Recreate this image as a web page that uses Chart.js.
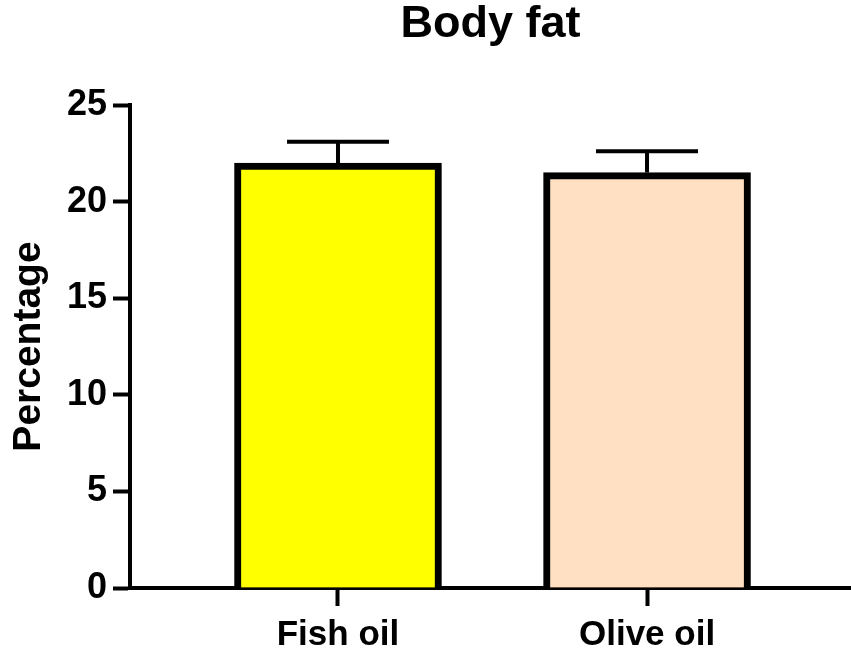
<!DOCTYPE html>
<html>
<head>
<meta charset="utf-8">
<script src="https://cdn.jsdelivr.net/npm/chart.js@4"></script>
<style>
  html, body { margin: 0; padding: 0; background: #fff; }
  #wrap { width: 851px; height: 652px; }
</style>
</head>
<body>
<div id="wrap"><canvas id="barChart" width="851" height="652"></canvas></div>
<script>
const title = 'Body fat';
const yLabel = 'Percentage';
const categories = ['Fish oil', 'Olive oil'];
const means = [22.0, 21.5];
const errors = [1.1, 1.1];
const yTicks = [0, 5, 10, 15, 20, 25];

const fillColors = ['#FFFF00', '#FFE0C2'];
const fontFamily = "'Liberation Sans', Arial, sans-serif";

// bars sit at x = 1, 2 on a linear axis so the left gap can match the original
const points = categories.map((c, i) => ({ x: i + 1, y: means[i] }));

const errorBars = {
    id: 'errorBars',
    afterDatasetsDraw(chart) {
        const ctx = chart.ctx;
        const yScale = chart.scales.y;
        const meta = chart.getDatasetMeta(0);
        ctx.save();
        ctx.strokeStyle = '#000';
        ctx.lineWidth = 4;
        ctx.lineCap = 'butt';
        meta.data.forEach((bar, i) => {
            const x = bar.x;
            const yTop = yScale.getPixelForValue(means[i] + errors[i]);
            const yBar = yScale.getPixelForValue(means[i]);
            ctx.beginPath();
            ctx.moveTo(x, yBar);
            ctx.lineTo(x, yTop);
            ctx.moveTo(x - 51, yTop);
            ctx.lineTo(x + 51, yTop);
            ctx.stroke();
        });
        ctx.restore();
    }
};

Chart.defaults.color = '#000';
Chart.defaults.font.family = fontFamily;

new Chart(document.getElementById('barChart'), {
    type: 'bar',
    data: {
        datasets: [{
            data: points,
            backgroundColor: fillColors,
            borderColor: '#000',
            borderWidth: 7,
            borderSkipped: 'start',
            barThickness: 207
        }]
    },
    options: {
        responsive: false,
        animation: false,
        layout: { padding: 0 },
        plugins: {
            legend: { display: false },
            tooltip: { enabled: false },
            title: {
                display: true,
                text: title,
                color: '#000',
                fullSize: false,
                font: { size: 45, weight: 'bold', lineHeight: 1 },
                padding: { top: 2, bottom: 58 }
            }
        },
        scales: {
            x: {
                type: 'linear',
                min: 0.327,
                max: 2.66,
                offset: false,
                z: 1,
                afterFit(scale) { scale.height = 64; },
                afterBuildTicks(scale) {
                    scale.ticks = categories.map((c, i) => ({ value: i + 1 }));
                },
                ticks: {
                    autoSkip: false,
                    maxRotation: 0,
                    padding: 8,
                    font: { size: 35, weight: 'bold' },
                    callback: (v) => categories[v - 1] || ''
                },
                grid: {
                    offset: false,
                    drawOnChartArea: false,
                    drawTicks: true,
                    tickLength: 18,
                    tickWidth: 4,
                    color: '#000'
                },
                border: { display: true, color: '#000', width: 4 }
            },
            y: {
                min: 0,
                max: 25,
                z: 1,
                afterFit(scale) { scale.width = 130; },
                afterBuildTicks(scale) {
                    scale.ticks = yTicks.map(v => ({ value: v }));
                },
                title: {
                    display: true,
                    text: yLabel,
                    color: '#000',
                    font: { size: 39, weight: 'bold', lineHeight: 1.1 },
                    padding: { top: 8, bottom: 0 }
                },
                ticks: {
                    padding: 6,
                    font: { size: 36, weight: 'bold' }
                },
                grid: {
                    drawOnChartArea: false,
                    drawTicks: true,
                    tickLength: 17,
                    tickWidth: 4,
                    color: '#000'
                },
                border: { display: true, color: '#000', width: 4 }
            }
        }
    },
    plugins: [errorBars]
});
</script>
</body>
</html>
